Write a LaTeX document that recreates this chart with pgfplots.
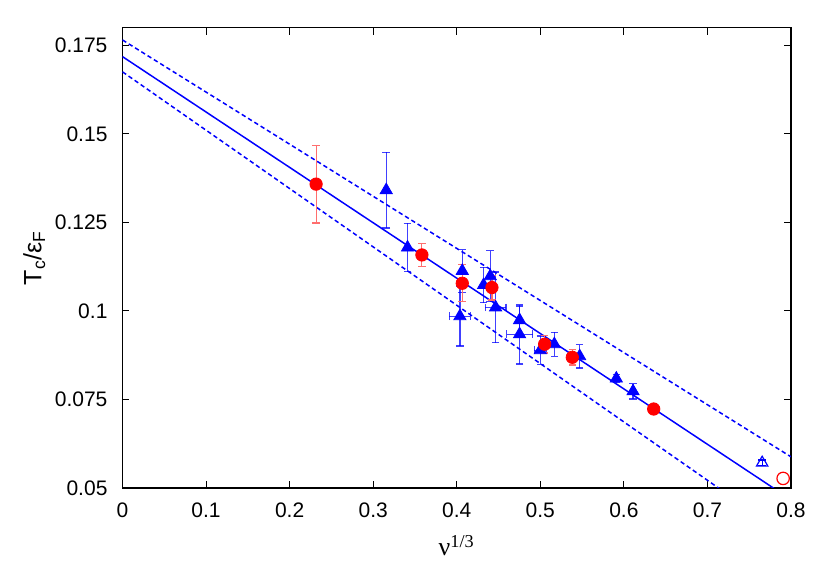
\documentclass[border=0pt]{standalone}
\usepackage{fontspec}
\setmainfont{Liberation Sans}
\newfontfamily\serif{Liberation Serif}
\usepackage{pgfplots}
\usepackage{pgfplotstable}
\pgfplotsset{compat=1.18}

\pgfplotstableread{
x       y       ex      ey
0.2317  0.1358  0       0.0110
0.3583  0.1158  0       0.0032
0.4066  0.1078  0       0.0052
0.4421  0.1066  0       0.0035
0.5052  0.0906  0       0.0025
0.5383  0.0869  0       0.0022
0.6357  0.0723  0       0.0010
}\redfilled

\pgfplotstableread{
x       y       ex      ey
0.3156  0.1341  0       0.0107
0.3411  0.1179  0       0.0068
0.4066  0.1113  0       0.0060
0.4038  0.0985  0.0125  0.0084
0.4321  0.1073  0       0.0050
0.4401  0.1098  0       0.0072
0.4465  0.1010  0.0125  0.0100
0.4752  0.0974  0       0.0040
0.4752  0.0934  0.0156  0.0084
0.5000  0.0889  0.0070  0.0040
0.5168  0.0906  0       0.0034
0.5471  0.0872  0       0.0033
0.5910  0.0809  0       0.0012
0.6110  0.0773  0       0.0022
}\bluefilled

\definecolor{gpblue}{RGB}{0,0,255}
\definecolor{gpred}{RGB}{255,0,0}
\definecolor{gpredbar}{RGB}{255,110,110}

\begin{document}
\begin{tikzpicture}
\begin{axis}[
  at={(0,0)}, anchor=south west,
  scale only axis,
  width=334.25pt, height=230.2pt,
  xmin=0, xmax=0.8, ymin=0.05, ymax=0.18,
  xtick={0,0.1,0.2,0.3,0.4,0.5,0.6,0.7,0.8},
  xticklabels={0,0.1,0.2,0.3,0.4,0.5,0.6,0.7,0.8},
  ytick={0.05,0.075,0.1,0.125,0.15,0.175},
  yticklabels={0.05,0.075,0.1,0.125,0.15,0.175},
  tick align=inside,
  major tick length=3.5pt,
  tick style={black, line width=0.5pt},
  axis line style={black, line width=0.6pt},
  ticklabel style={font=\fontsize{10.5}{12}\selectfont},
  xticklabel style={yshift=-4pt},
  yticklabel style={xshift=-4pt},
  xlabel={{\serif\fontsize{13}{15}\selectfont ν\textsuperscript{1/3}}},
  ylabel={\fontsize{12.5}{14}\selectfont T\textsubscript{c}/ε\textsubscript{F}},
  xlabel style={at={(axis description cs:0.5,-0.1477)}, anchor=base},
  ylabel style={at={(axis description cs:-0.132,0.5)}, anchor=center},
  clip=true,
]
% fit line and band
\addplot[gpblue, line width=0.75pt] coordinates {(0,0.1718) (0.8,0.0467)};
\addplot[gpblue, line width=0.75pt, dash pattern=on 2.2pt off 1.5pt] coordinates {(0,0.1765) (0.8,0.0588)};
\addplot[gpblue, line width=0.75pt, dash pattern=on 2.2pt off 1.5pt] coordinates {(0,0.1675) (0.8,0.0357)};

% blue triangles
\addplot[only marks, mark=triangle*, mark size=3.5pt, color=gpblue,
  error bars/.cd, x dir=both, y dir=both, x explicit, y explicit,
  error bar style={gpblue, opacity=0.75, line width=0.6pt},
  error mark options={rotate=90, mark size=1.9pt, gpblue, opacity=0.75, line width=0.6pt}]
  table[x=x, y=y, x error=ex, y error=ey] {\bluefilled};

% red circles
\addplot[only marks, mark=*, mark size=3.1pt, color=gpred,
  error bars/.cd, y dir=both, y explicit,
  error bar style={gpredbar, line width=0.6pt},
  error mark options={rotate=90, mark size=1.9pt, gpredbar, line width=0.6pt}]
  table[x=x, y=y, y error=ey] {\redfilled};

% open symbols
\addplot[only marks, mark=triangle, mark size=3.3pt, color=gpblue, line width=0.6pt,
  error bars/.cd, y dir=both, y explicit,
  error bar style={gpblue, line width=0.6pt},
  error mark options={rotate=90, mark size=1.9pt, gpblue, line width=0.6pt}]
  coordinates {(0.7655,0.0571) +- (0,0.0008)};
\addplot[only marks, mark=o, mark size=3.1pt, color=gpred, line width=0.6pt]
  coordinates {(0.7906,0.0527)};
\end{axis}
\useasboundingbox (-61.25pt,-46.5pt) rectangle (353.75pt,244pt);
\end{tikzpicture}
\end{document}
